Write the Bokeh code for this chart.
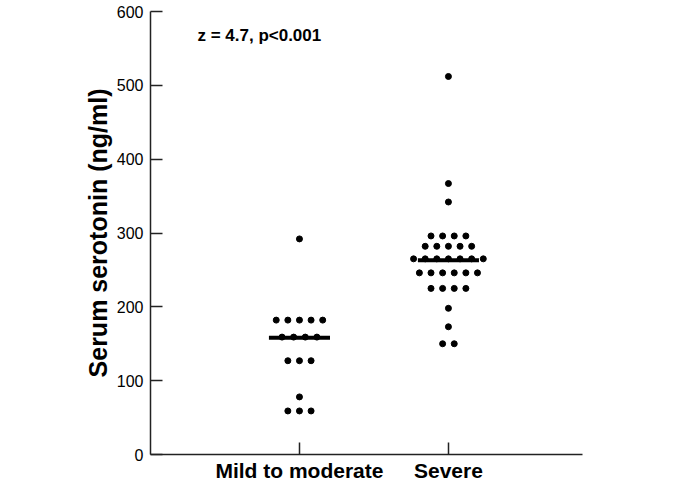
import numpy as np
from bokeh.plotting import figure
from bokeh.models import Range1d, FixedTicker, Label, ColumnDataSource
from bokeh.embed import file_html
from bokeh.resources import INLINE

# ---- data ----
categories = ["Mild to moderate", "Severe"]
mild_values = [292, 182, 182, 182, 182, 182, 159, 159, 159, 159,
               127, 127, 127, 78, 59, 59, 59]
severe_values = [512, 367, 342, 296, 296, 296, 296, 282, 282, 282, 282, 282,
                 265, 265, 265, 265, 265, 265, 265, 246, 246, 246, 246, 246, 246,
                 225, 225, 225, 225, 198, 173, 150, 150]
median_values = [158, 263]
y_ticks = [0, 100, 200, 300, 400, 500, 600]
annotation_text = "z = 4.7, p<0.001"

FONT = "Liberation Sans"
DOT_STEP = 0.078      # horizontal spacing of tied points (x units)
HALF_LINE = 0.205     # half width of median bar (x units)


def swarm(center, values):
    xs, ys = [], []
    for v in sorted(set(values), reverse=True):
        n = values.count(v)
        for i in range(n):
            xs.append(center + (i - (n - 1) / 2) * DOT_STEP)
            ys.append(v)
    return xs, ys


p = figure(width=685, height=484, output_backend="svg", toolbar_location=None,
           x_range=Range1d(0, 2.9), y_range=Range1d(0, 600),
           min_border_left=150, min_border_right=103, min_border_top=11,
           min_border_bottom=29)
p.outline_line_color = None
p.xgrid.visible = False
p.ygrid.visible = False
p.background_fill_color = "white"
p.border_fill_color = "white"

xs, ys = [], []
for k, vals in enumerate([mild_values, severe_values]):
    a, b = swarm(k + 1, vals)
    xs += a
    ys += b
src = ColumnDataSource(dict(x=xs, y=ys))
p.scatter("x", "y", source=src, size=6, color="black")

cx = np.arange(1, len(categories) + 1)
p.segment(x0=cx - HALF_LINE, x1=cx + HALF_LINE, y0=median_values, y1=median_values,
          line_width=4, line_color="black", line_cap="butt")

# axes
for ax in (p.xaxis, p.yaxis):
    ax.axis_line_color = "#222222"
    ax.axis_line_width = 1.5
    ax.major_tick_line_color = "#222222"
    ax.major_tick_line_width = 1.5
    ax.major_tick_in = 12
    ax.major_tick_out = 0
    ax.minor_tick_in = 0
    ax.minor_tick_out = 0
    ax.major_label_text_color = "black"
    ax.major_label_text_font = FONT

p.xaxis.ticker = FixedTicker(ticks=list(cx))
p.xaxis.major_label_overrides = {int(i): c for i, c in zip(cx, categories)}
p.xaxis.major_label_text_font_size = "21px"
p.xaxis.major_label_text_font_style = "bold"
p.xaxis.major_label_standoff = 4

p.yaxis.ticker = FixedTicker(ticks=y_ticks)
p.yaxis.major_label_text_font_size = "16px"
p.yaxis.major_label_standoff = 7
p.yaxis.axis_label = "Serum serotonin (ng/ml)"
p.yaxis.axis_label_text_font = FONT
p.yaxis.axis_label_text_font_size = "25px"
p.yaxis.axis_label_text_font_style = "bold"
p.yaxis.axis_label_text_color = "black"
p.yaxis.axis_label_standoff = 2

p.add_layout(Label(x=0.315, y=567, text=annotation_text, text_font=FONT,
                   text_font_size="17px", text_font_style="bold",
                   text_align="left", text_baseline="alphabetic", text_color="black"))

open("out.html", "w").write(file_html(p, INLINE))
